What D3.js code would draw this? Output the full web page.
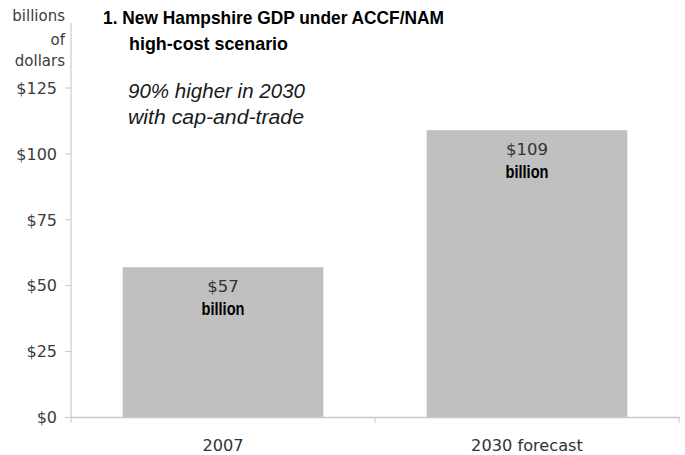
<!DOCTYPE html>
<html><head><meta charset="utf-8">
<script src="https://cdn.jsdelivr.net/npm/d3@7"></script>
<style>body{margin:0;background:#fff;}svg{display:block;font-family:"Liberation Sans",Arial,sans-serif;}</style>
</head><body>
<svg id="chart" width="685" height="455"></svg>
<script>
const categories = ["2007", "2030 forecast"];
const values = [57, 109];
const valueLabels = ["$57", "$109"];
const yTicks = [0, 25, 50, 75, 100, 125];
const yTickLabels = ["$0", "$25", "$50", "$75", "$100", "$125"];
const unitLabel = ["billions", "of", "dollars"];
const titleLines = ["1. New Hampshire GDP under ACCF/NAM", "high-cost scenario"];
const subtitleLines = ["90% higher in 2030", "with cap-and-trade"];

const svg = d3.select("#chart");
const x = d3.scaleBand().domain(categories).range([71, 679]).paddingInner(0.34).paddingOuter(0.17);
const y = d3.scaleLinear().domain([0, 125]).range([417.5, 88]);
const dv = '"DejaVu Sans", sans-serif';

// y axis line
svg.append("line").attr("x1", 71).attr("x2", 71).attr("y1", 23).attr("y2", 418)
  .attr("stroke", "#cfcfcf").attr("stroke-width", 1.3);
// y ticks
const yg = svg.append("g");
yTicks.forEach((t, i) => {
  yg.append("line").attr("x1", 65).attr("x2", 71).attr("y1", y(t)).attr("y2", y(t)).attr("stroke", "#c8c8c8");
  yg.append("text").attr("x", 57).attr("y", y(t)).attr("dy", "0.36em").attr("text-anchor", "end")
    .style("font-family", dv).attr("font-size", 16).attr("fill", "#3c3c3c").text(yTickLabels[i]);
});
// unit label
[20.5, 44.5, 66].forEach((yy, i) => {
  svg.append("text").attr("x", 65).attr("y", yy).attr("text-anchor", "end")
    .style("font-family", dv).attr("font-size", 15).attr("fill", "#3c3c3c").text(unitLabel[i]);
});

// bars
svg.selectAll("rect.bar").data(categories).enter().append("rect")
  .attr("x", d => x(d)).attr("width", x.bandwidth())
  .attr("y", (d, i) => y(values[i])).attr("height", (d, i) => y(0) - y(values[i]))
  .attr("fill", "#c0c0c0");

// x axis
svg.append("line").attr("x1", 71).attr("x2", 680).attr("y1", 417.5).attr("y2", 417.5).attr("stroke", "#c8c8c8").attr("stroke-width", 1.3);
[x.range()[0], (x.range()[0] + x.range()[1]) / 2, x.range()[1]].forEach(xx => {
  svg.append("line").attr("x1", xx).attr("x2", xx).attr("y1", 417.5).attr("y2", 423).attr("stroke", "#c8c8c8");
});
categories.forEach(c => {
  svg.append("text").attr("x", x(c) + x.bandwidth() / 2).attr("y", 451).attr("text-anchor", "middle")
    .style("font-family", dv).attr("font-size", 16.2).attr("fill", "#333").text(c);
});

// value labels
categories.forEach((c, i) => {
  const cx = x(c) + x.bandwidth() / 2;
  svg.append("text").attr("x", cx).attr("y", y(values[i]) + 25).attr("text-anchor", "middle")
    .style("font-family", dv).attr("font-size", 16.5).attr("fill", "#333").text(valueLabels[i]);
  svg.append("text").attr("x", cx).attr("y", y(values[i]) + 47.5).attr("text-anchor", "middle")
    .attr("font-size", 17.5).attr("font-weight", "bold").attr("fill", "#000")
    .attr("textLength", 43).attr("lengthAdjust", "spacingAndGlyphs").text("billion");
});

// title
svg.append("text").attr("x", 103).attr("y", 24).attr("font-size", 19).attr("font-weight", "bold").attr("fill", "#000")
  .attr("textLength", 341).attr("lengthAdjust", "spacingAndGlyphs").text(titleLines[0]);
svg.append("text").attr("x", 129).attr("y", 50).attr("font-size", 19).attr("font-weight", "bold").attr("fill", "#000")
  .attr("textLength", 159).attr("lengthAdjust", "spacingAndGlyphs").text(titleLines[1]);
svg.append("text").attr("x", 128).attr("y", 98).attr("font-size", 20).attr("font-style", "italic").attr("fill", "#1a1a1a")
  .attr("textLength", 177).attr("lengthAdjust", "spacingAndGlyphs").text(subtitleLines[0]);
svg.append("text").attr("x", 128).attr("y", 124).attr("font-size", 20).attr("font-style", "italic").attr("fill", "#1a1a1a")
  .attr("textLength", 176).attr("lengthAdjust", "spacingAndGlyphs").text(subtitleLines[1]);
</script>
</body></html>
